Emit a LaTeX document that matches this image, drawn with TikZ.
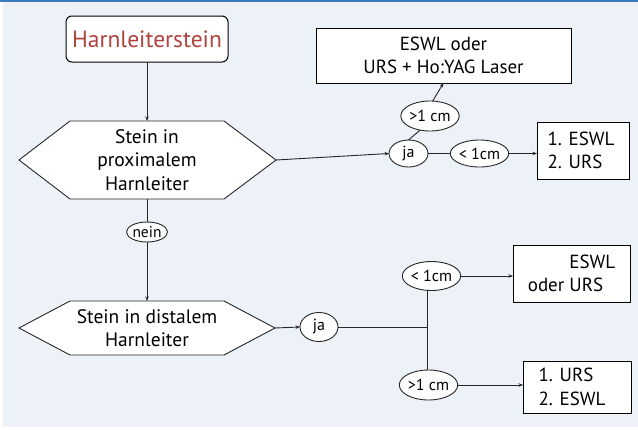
\documentclass[tikz,border=0pt]{standalone}
\usepackage{fontspec}
\setmainfont{PT Sans}
\usetikzlibrary{shapes.geometric,calc,arrows.meta}

\definecolor{panelbg}{RGB}{237,242,249}
\definecolor{topbar}{RGB}{62,122,184}
\definecolor{titlered}{RGB}{176,66,62}

\begin{document}
\begin{tikzpicture}[x=1pt,y=-1pt,
  every node/.style={inner sep=0pt, outer sep=0pt},
  line/.style={draw=black!85, line width=0.9pt},
  arr/.style={line, -{Stealth[length=4.5pt,width=3.5pt]}},
  startbox/.style={draw=black, line width=1pt, fill=white, rounded corners=6pt,
    minimum width=162pt, minimum height=46pt, text=titlered,
    font=\fontsize{23.5}{27}\selectfont},
  hexbody/.style={minimum width=154pt, align=center,
    font=\fontsize{19.5}{23.5}\selectfont},
  hexline/.style={draw=black!85, line width=0.9pt, fill=white},
  choice/.style={ellipse, draw=black!85, line width=0.9pt, fill=white,
    font=\fontsize{16}{18}\selectfont},
  resultbox/.style={draw=black, line width=1pt, fill=white,
    font=\fontsize{19}{23.5}\selectfont}
]
% page, panel and top bar
\useasboundingbox (0,0) rectangle (638,429);
\fill[white] (0,0) rectangle (638,429);
\fill[panelbg] (3,2) rectangle (638,427);
\fill[topbar] (0,0) rectangle (638,2.2);

% start
\node[startbox] (start) at (147,39) {Harnleiterstein};

% first decision: hexagon outline, then its text
\path[hexline] (70,121) -- (224,121) -- (276,160) -- (224,199)
  -- (70,199) -- (19,160) -- cycle;
\node[hexbody, minimum height=78pt] (s1) at (147,160) {Stein in\\proximalem\\Harnleiter};
\coordinate (s1R) at (276,160);

% second decision: hexagon outline, then its text
\path[hexline] (70,301) -- (224,301) -- (275,328) -- (224,355)
  -- (70,355) -- (19,328) -- cycle;
\node[hexbody, minimum height=54pt] (s2) at (147,328) {Stein in distalem\\Harnleiter};
\coordinate (s2R) at (275,328);

% branch labels
\node[choice, minimum width=36pt, minimum height=20pt, font=\fontsize{15.5}{17}\selectfont]
  (nein) at (147,232) {nein};
\node[choice, minimum width=39pt, minimum height=27pt] (ja1) at (408.5,153.5) {ja};
\node[choice, minimum width=54pt, minimum height=30pt] (gt1) at (430,116) {>1 cm};
\node[choice, minimum width=53pt, minimum height=27pt] (lt1) at (479.5,153.5) {< 1cm};
\node[choice, minimum width=38pt, minimum height=29pt] (ja2) at (319,327) {ja};
\node[choice, minimum width=53pt, minimum height=29pt] (lt2) at (431.5,276) {< 1cm};
\node[choice, minimum width=53pt, minimum height=30pt] (gt2) at (428.5,385) {>1 cm};
\coordinate (j) at (427,327);

% results
\node[resultbox, minimum width=255pt, minimum height=55pt, align=center] (b1)
  at (443.5,55.5) {ESWL oder\\URS + Ho:YAG Laser};
\node[resultbox, minimum width=92pt, minimum height=57pt, align=left] (b2)
  at (583,150.5) {1. ESWL\\2. URS\hspace*{16pt}};
\node[resultbox, minimum width=117pt, minimum height=57pt, align=right] (b3)
  at (571.5,273.5) {\hspace*{12pt}ESWL\\oder URS\hspace*{12pt}};
\node[resultbox, minimum width=108pt, minimum height=52pt, align=left] (b4)
  at (577,387) {1. URS\hspace*{22pt}\\2. ESWL\hspace*{4pt}};

% connectors
\draw[arr] (start) -- (s1.north);
\draw[line] (s1.south) -- (nein);
\draw[arr] (nein) -- (s2.north);
\draw[arr] (s1R) -- (ja1.west);
\draw[line] (ja1.north) -- (gt1.235);
\draw[arr] (gt1.80) -- (b1.south);
\draw[line] (ja1.east) -- (lt1.west);
\draw[arr] (lt1.east) -- (lt1.east -| b2.west);
\draw[arr] (s2R) -- (ja2.west);
\draw[line] (ja2.east) -- (j);
\draw[line] (j |- lt2.south) -- (j |- gt2.north);
\draw[arr] (lt2.east) -- (lt2.east -| b3.west);
\draw[arr] (gt2.east) -- (gt2.east -| b4.west);
\end{tikzpicture}
\end{document}
